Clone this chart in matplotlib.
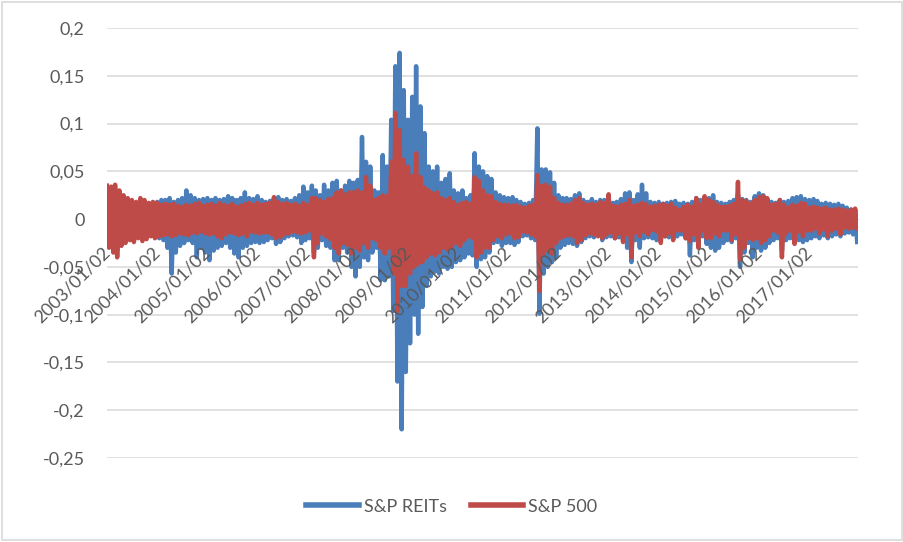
import pandas as pd
import matplotlib
matplotlib.use("Agg")
from matplotlib import pyplot as plt
from matplotlib.patches import Rectangle
from matplotlib.ticker import FuncFormatter, MultipleLocator

plt.rcParams['font.family'] = ['Lato', 'DejaVu Sans']

# monthly range of daily returns (upper / lower extreme), Jan 2003 .. Dec 2017
months = pd.date_range("2003-01-01", "2017-12-01", freq="MS")
tick_dates = [pd.Timestamp(y, 1, 2) for y in range(2003, 2018)]
tick_labels = [d.strftime("%Y/%m/%d") for d in tick_dates]

reits_high = [
    .030, .028, .030, .025, .020, .020, .018, .017, .020, .018, .016, .017,  # 2003
    .018, .020, .020, .022, .018, .020, .022, .030, .025, .022, .020, .021,  # 2004
    .022, .020, .022, .020, .021, .024, .022, .020, .022, .028, .022, .021,  # 2005
    .024, .020, .018, .019, .022, .023, .020, .021, .019, .022, .025, .034,  # 2006
    .028, .035, .030, .025, .036, .030, .038, .040, .030, .035, .040, .038,  # 2007
    .041, .086, .060, .055, .030, .028, .067, .055, .104, .160, .174, .135,  # 2008
    .104, .128, .160, .118, .090, .055, .050, .055, .038, .042, .048, .030,  # 2009
    .027, .030, .022, .025, .069, .055, .050, .045, .042, .028, .025, .023,  # 2010
    .022, .023, .020, .018, .016, .017, .020, .095, .052, .052, .049, .038,  # 2011
    .025, .022, .022, .021, .025, .027, .020, .018, .021, .018, .020, .020,  # 2012
    .018, .017, .018, .021, .027, .028, .020, .026, .036, .027, .018, .017,  # 2013
    .018, .016, .017, .018, .019, .016, .017, .016, .018, .022, .020, .017,  # 2014
    .022, .025, .018, .017, .016, .018, .020, .025, .021, .020, .018, .024,  # 2015
    .027, .025, .020, .018, .017, .020, .018, .019, .022, .023, .024, .021,  # 2016
    .020, .021, .019, .016, .017, .016, .015, .016, .014, .012, .010, .010,  # 2017
]
reits_low = [
    -.028, -.030, -.033, -.025, -.022, -.020, -.022, -.018, -.020, -.019, -.016, -.018,
    -.020, -.022, -.030, -.057, -.035, -.028, -.025, -.022, -.025, -.040, -.030, -.035,
    -.043, -.033, -.030, -.028, -.025, -.030, -.036, -.040, -.030, -.028, -.025, -.024,
    -.025, -.024, -.022, -.020, -.026, -.024, -.020, -.018, -.017, -.019, -.025, -.022,
    -.020, -.035, -.030, -.022, -.028, -.030, -.043, -.043, -.030, -.035, -.050, -.060,
    -.050, -.040, -.043, -.035, -.030, -.064, -.064, -.060, -.096, -.170, -.220, -.160,
    -.130, -.100, -.120, -.092, -.070, -.060, -.055, -.057, -.050, -.052, -.050, -.045,
    -.043, -.040, -.036, -.038, -.050, -.042, -.040, -.035, -.025, -.024, -.028, -.025,
    -.025, -.027, -.024, -.018, -.017, -.020, -.022, -.099, -.057, -.050, -.045, -.040,
    -.030, -.027, -.025, -.026, -.028, -.024, -.020, -.018, -.019, -.017, -.022, -.019,
    -.018, -.020, -.019, -.022, -.030, -.045, -.022, -.030, -.020, -.019, -.020, -.022,
    -.022, -.018, -.019, -.020, -.018, -.016, -.020, -.038, -.022, -.024, -.018, -.026,
    -.030, -.033, -.030, -.025, -.022, -.024, -.020, -.050, -.035, -.025, -.040, -.030,
    -.033, -.030, -.025, -.022, -.020, -.033, -.022, -.020, -.025, -.022, -.024, -.022,
    -.020, -.018, -.020, -.017, -.020, -.018, -.016, -.018, -.015, -.014, -.016, -.024,
]
sp500_high = [
    .035, .034, .036, .030, .025, .022, .020, .018, .022, .020, .017, .018,
    .017, .015, .016, .015, .016, .014, .013, .015, .014, .016, .017, .014,
    .015, .016, .014, .017, .015, .014, .016, .013, .014, .016, .017, .015,
    .017, .015, .016, .017, .023, .018, .016, .017, .015, .016, .014, .017,
    .015, .022, .022, .020, .018, .021, .022, .028, .030, .026, .028, .028,
    .030, .028, .044, .035, .020, .022, .025, .024, .060, .111, .093, .062,
    .055, .045, .069, .044, .033, .030, .027, .028, .022, .020, .022, .018,
    .015, .017, .018, .016, .044, .040, .030, .025, .024, .018, .016, .015,
    .015, .014, .015, .013, .012, .014, .015, .046, .035, .036, .034, .022,
    .017, .015, .015, .016, .020, .022, .017, .015, .016, .015, .018, .017,
    .026, .014, .013, .015, .016, .020, .014, .015, .017, .016, .013, .014,
    .015, .016, .014, .016, .012, .010, .013, .015, .013, .022, .015, .024,
    .020, .018, .015, .013, .013, .014, .016, .039, .020, .019, .016, .020,
    .023, .024, .022, .015, .016, .020, .015, .012, .015, .014, .017, .016,
    .012, .013, .012, .011, .012, .010, .010, .011, .010, .009, .010, .011,
]
sp500_low = [
    -.030, -.035, -.040, -.028, -.025, -.022, -.024, -.020, -.023, -.021, -.018, -.020,
    -.018, -.017, -.016, -.018, -.017, -.015, -.016, -.017, -.014, -.015, -.013, -.015,
    -.016, -.015, -.018, -.020, -.016, -.014, -.015, -.017, -.015, -.018, -.013, -.014,
    -.015, -.014, -.014, -.016, -.020, -.019, -.016, -.015, -.013, -.014, -.015, -.014,
    -.012, -.040, -.025, -.015, -.018, -.021, -.030, -.036, -.025, -.027, -.036, -.030,
    -.033, -.025, -.030, -.020, -.022, -.030, -.036, -.030, -.057, -.096, -.070, -.070,
    -.057, -.050, -.047, -.045, -.040, -.036, -.038, -.035, -.030, -.032, -.030, -.025,
    -.028, -.022, -.018, -.020, -.040, -.035, -.030, -.030, -.022, -.018, -.020, -.016,
    -.015, -.020, -.019, -.013, -.014, -.016, -.018, -.075, -.036, -.033, -.036, -.025,
    -.020, -.018, -.017, -.018, -.025, -.022, -.017, -.015, -.016, -.018, -.020, -.016,
    -.014, -.020, -.015, -.024, -.016, -.040, -.014, -.018, -.013, -.016, -.011, -.013,
    -.025, -.018, -.015, -.022, -.012, -.012, -.020, -.023, -.016, -.030, -.012, -.020,
    -.020, -.015, -.018, -.012, -.012, -.022, -.016, -.042, -.030, -.020, -.022, -.020,
    -.025, -.022, -.018, -.012, -.014, -.040, -.015, -.012, -.026, -.013, -.018, -.012,
    -.012, -.010, -.015, -.011, -.018, -.012, -.010, -.016, -.009, -.010, -.009, -.010,
]

BLUE = '#4A7EBB'
RED = '#BE4B48'
GRID = '#D9D9D9'
TEXT = '#595959'


def zigzag(high, low):
    # two points per month: the month's top and bottom extreme
    xs, ys = [], []
    for d, h, l in zip(months, high, low):
        xs += [d, d + pd.Timedelta(days=15)]
        ys += [h, l]
    return xs, ys


fig = plt.figure(figsize=(9.04, 5.42), dpi=100)
ax = fig.add_axes([107 / 904, 1 - 458 / 542, (858 - 107) / 904, (458 - 28) / 542])

x, y = zigzag(reits_high, reits_low)
ax.plot(x, y, color=BLUE, lw=3.2, label='S&P REITs', zorder=2)
x, y = zigzag(sp500_high, sp500_low)
ax.plot(x, y, color=RED, lw=3.2, label='S&P 500', zorder=2.1)

ax.set_ylim(-0.25, 0.2)
ax.set_xlim(months[0], pd.Timestamp("2017-12-22"))
ax.yaxis.set_major_locator(MultipleLocator(0.05))
ax.yaxis.set_major_formatter(FuncFormatter(lambda v, p: ('%g' % round(v, 2)).replace('.', ',')))
ax.grid(axis='y', color=GRID, lw=1.1, zorder=0)
ax.set_axisbelow(True)

for s in ['top', 'right', 'left']:
    ax.spines[s].set_visible(False)
ax.spines['bottom'].set_position(('data', 0))
ax.spines['bottom'].set_color(GRID)
ax.spines['bottom'].set_zorder(0)

ax.set_xticks(tick_dates)
ax.set_xticklabels(tick_labels, rotation=45, ha='right', va='center', rotation_mode='anchor')
ax.tick_params(axis='x', length=0, pad=22, labelsize=13, labelcolor=TEXT)
ax.tick_params(axis='y', length=0, pad=16, labelsize=13, labelcolor=TEXT)
# date labels sit on top of the series
for lbl in ax.get_xticklabels():
    lbl.set_zorder(5)
ax.xaxis.set_zorder(5)

leg = ax.legend(loc='center', bbox_to_anchor=(0.5, 0.065), bbox_transform=fig.transFigure,
                ncol=2, frameon=False, fontsize=13, handlelength=2.9, handletextpad=0.3,
                columnspacing=1.3)
for t in leg.get_texts():
    t.set_color(TEXT)
for h in leg.get_lines():
    h.set_linewidth(4)

fig.patches.append(Rectangle((0.002, 0.003), 0.996, 0.994, transform=fig.transFigure,
                             fill=False, edgecolor=GRID, lw=1.2))

fig.savefig('out.png', dpi=100)
